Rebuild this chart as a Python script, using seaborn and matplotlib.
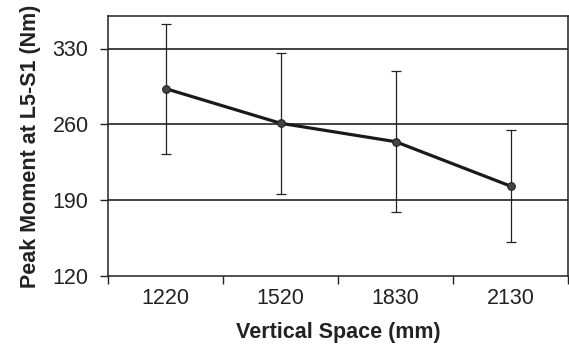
import matplotlib
matplotlib.use("Agg")
import matplotlib.pyplot as plt
import seaborn as sns
import numpy as np
import pandas as pd

categories = ["1220", "1520", "1830", "2130"]
means = [293, 261, 244, 203]
sds = [60, 65, 65, 52]
y_ticks = [120, 190, 260, 330]

sns.set_style("white")
plt.rcParams['font.family'] = ['Liberation Sans', 'DejaVu Sans']

df = pd.DataFrame({"pos": np.arange(len(categories)), "mean": means, "sd": sds})

fig = plt.figure(figsize=(5.69, 3.48), dpi=100)
ax = fig.add_axes([108/569, 1 - 276/348, 460/569, 260/348])

for yv in y_ticks[1:]:
    ax.axhline(yv, color="#222222", lw=1.2, zorder=1)

ax.errorbar(df["pos"], df["mean"], yerr=df["sd"], fmt="none", ecolor="#222222",
            elinewidth=0.9, capsize=3.5, capthick=0.9, zorder=2)
sns.lineplot(data=df, x="pos", y="mean", ax=ax, color="#1a1a1a", lw=2.3,
             marker="o", markersize=5.5, markerfacecolor="#444444",
             markeredgecolor="#222222", markeredgewidth=0.8, zorder=3)

ax.set_xlim(-0.5, len(categories) - 0.5)
ax.set_ylim(120, 360)
ax.set_yticks(y_ticks)
ax.set_yticklabels([str(v) for v in y_ticks])

fs = 15.5
ax.set_xticks(np.arange(-0.5, len(categories), 1.0))
ax.set_xticklabels([])
ax.set_xticks(np.arange(len(categories)), minor=True)
ax.set_xticklabels(categories, minor=True)
ax.tick_params(axis="x", which="major", direction="out", length=6, width=1, color="#222222")
ax.tick_params(axis="x", which="minor", length=0, pad=9, labelsize=fs, labelcolor="#222222")
ax.tick_params(axis="y", direction="out", length=6, width=1, color="#222222",
               labelsize=fs, labelcolor="#222222", pad=8)
ax.tick_params(bottom=True, left=True)

for s in ax.spines.values():
    s.set_color("#222222")
    s.set_linewidth(1.1)
    s.set_visible(True)

ax.set_xlabel("Vertical Space (mm)", fontsize=fs, fontweight="bold", color="#222222", labelpad=9)
ax.set_ylabel("Peak Moment at L5-S1 (Nm)", fontsize=fs, fontweight="bold", color="#222222", labelpad=8)

fig.savefig("out.png", dpi=100)
